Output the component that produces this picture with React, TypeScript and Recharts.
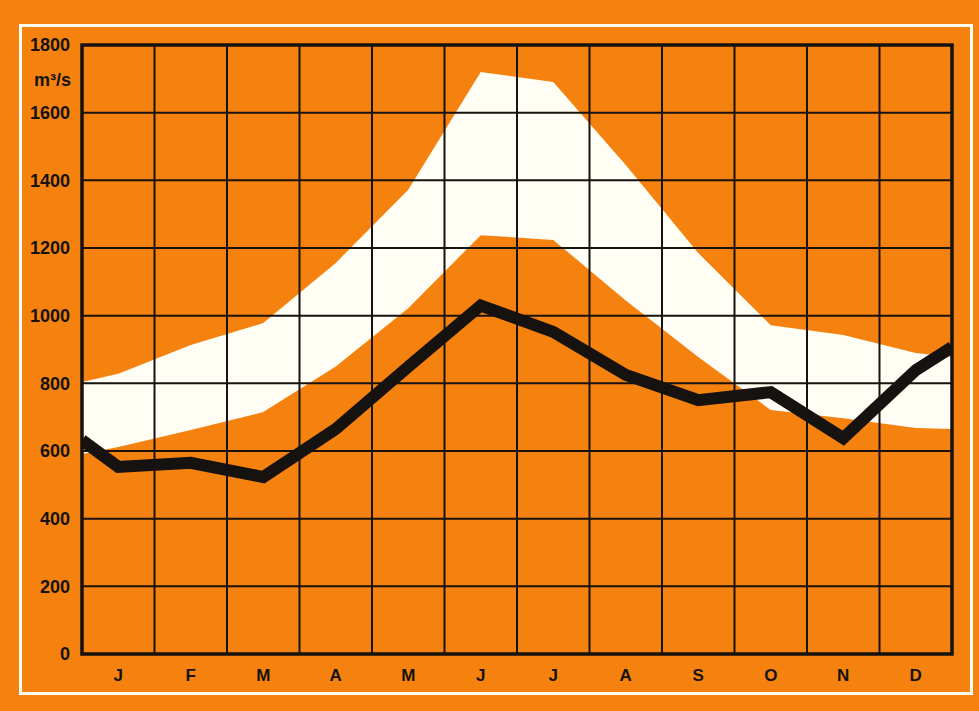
import {
  ComposedChart,
  Area,
  Line,
  XAxis,
  YAxis,
  CartesianGrid,
  ReferenceArea,
} from "recharts";

const months = ["J", "F", "M", "A", "M", "J", "J", "A", "S", "O", "N", "D"];
// x positions: chart edges plus the middle of each month
const positions = [0, 0.5, 1.5, 2.5, 3.5, 4.5, 5.5, 6.5, 7.5, 8.5, 9.5, 10.5, 11.5, 12];
const flow = [632, 553, 565, 523, 665, 849, 1030, 952, 825, 750, 774, 638, 839, 907];
const upper = [804, 828, 913, 978, 1156, 1372, 1720, 1691, 1445, 1185, 972, 943, 890, 878];
const lower = [591, 612, 662, 715, 850, 1022, 1238, 1224, 1045, 878, 721, 697, 668, 665];
const yTicks = [0, 200, 400, 600, 800, 1000, 1200, 1400, 1600, 1800];
const gridX = [0, 1, 2, 3, 4, 5, 6, 7, 8, 9, 10, 11, 12];
const labelX = [0.5, 1.5, 2.5, 3.5, 4.5, 5.5, 6.5, 7.5, 8.5, 9.5, 10.5, 11.5];

const data = positions.map((x, i) => ({
  x,
  flow: flow[i],
  band: [lower[i], upper[i]],
}));

const ORANGE = "#F5820E";
const INK = "#161210";
const font = "'Liberation Sans', Arial, sans-serif";

export default function App() {
  return (
    <div
      style={{
        position: "absolute",
        left: 0,
        top: 0,
        width: 979,
        height: 711,
        background: ORANGE,
        fontFamily: font,
      }}
    >
      <div
        style={{
          position: "absolute",
          left: 19,
          top: 24,
          width: 948,
          height: 665,
          border: "3px solid #FFFDF4",
        }}
      />
      <div
        style={{
          position: "absolute",
          left: 0,
          top: 70,
          width: 71,
          textAlign: "right",
          fontWeight: "bold",
          fontSize: 18,
          color: INK,
        }}
      >
        m³/s
      </div>
      <ComposedChart
        width={979}
        height={711}
        data={data}
        margin={{ top: 45, right: 27, left: 0, bottom: 0 }}
        style={{ position: "absolute", left: 0, top: 0 }}
      >
        <XAxis
          xAxisId="grid"
          dataKey="x"
          type="number"
          domain={[0, 12]}
          ticks={gridX}
          hide
        />
        <XAxis
          dataKey="x"
          type="number"
          domain={[0, 12]}
          allowDataOverflow
          ticks={labelX}
          height={57}
          tickFormatter={(v: number) => months[Math.floor(v)]}
          axisLine={false}
          tickLine={false}
          tickMargin={9}
          tick={{ fill: INK, fontSize: 17, fontWeight: "bold", fontFamily: font }}
        />
        <YAxis
          domain={[0, 1800]}
          allowDataOverflow
          ticks={yTicks}
          width={82}
          axisLine={false}
          tickLine={false}
          tickMargin={6}
          tick={{ fill: INK, fontSize: 18, fontWeight: "bold", fontFamily: font }}
        />
        <Area
          dataKey="band"
          type="linear"
          stroke="none"
          fill="#FFFDF4"
          fillOpacity={1}
          isAnimationActive={false}
          zIndex={100}
        />
        <CartesianGrid
          xAxisId="grid"
          stroke={INK}
          strokeWidth={2}
          zIndex={200}
        />
        <ReferenceArea
          x1={0}
          x2={12}
          y1={0}
          y2={1800}
          fill="none"
          stroke={INK}
          strokeWidth={3.5}
          zIndex={210}
        />
        <Line
          dataKey="flow"
          type="linear"
          stroke={INK}
          strokeWidth={12}
          strokeLinejoin="miter"
          dot={false}
          isAnimationActive={false}
          zIndex={300}
        />
      </ComposedChart>
    </div>
  );
}
